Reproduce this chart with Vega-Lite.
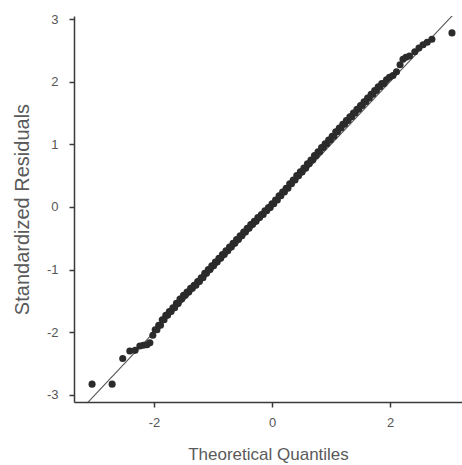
{
  "$schema": "https://vega.github.io/schema/vega-lite/v6.json",
  "width": 388,
  "height": 386,
  "autosize": "none",
  "padding": {"left": 74, "top": 16, "right": 0, "bottom": 63},
  "background": "white",
  "config": {
    "view": {"stroke": null},
    "font": "Liberation Sans",
    "axis": {
      "grid": false,
      "domainColor": "#3a3a3a",
      "domainWidth": 1.5,
      "tickColor": "#3a3a3a",
      "tickWidth": 1.5,
      "tickSize": 5,
      "labelColor": "#555555",
      "labelFontSize": 13,
      "labelFont": "Liberation Sans",
      "titleColor": "#5a5a5a",
      "titleFont": "Liberation Sans",
      "titleFontWeight": "normal"
    }
  },
  "datasets": {
    "ref": [
      {"tq": -3.6, "sr": -3.6},
      {"tq": 3.6, "sr": 3.6}
    ],
    "qq": [
      {"tq": -3.05, "sr": -2.83}, {"tq": -2.71, "sr": -2.83}, {"tq": -2.53, "sr": -2.42},
      {"tq": -2.41, "sr": -2.30}, {"tq": -2.32, "sr": -2.29}, {"tq": -2.24, "sr": -2.22},
      {"tq": -2.18, "sr": -2.21}, {"tq": -2.12, "sr": -2.20}, {"tq": -2.07, "sr": -2.17},
      {"tq": -2.02, "sr": -2.05},
      {"tq": -1.98, "sr": -1.96}, {"tq": -1.95, "sr": -1.96},
      {"tq": -1.92, "sr": -1.89}, {"tq": -1.89, "sr": -1.89},
      {"tq": -1.86, "sr": -1.80}, {"tq": -1.83, "sr": -1.80},
      {"tq": -1.80, "sr": -1.73}, {"tq": -1.77, "sr": -1.73},
      {"tq": -1.74, "sr": -1.67}, {"tq": -1.71, "sr": -1.67},
      {"tq": -1.68, "sr": -1.61}, {"tq": -1.65, "sr": -1.61},
      {"tq": -1.62, "sr": -1.54}, {"tq": -1.59, "sr": -1.54},
      {"tq": -1.56, "sr": -1.47}, {"tq": -1.53, "sr": -1.47},
      {"tq": -1.50, "sr": -1.41}, {"tq": -1.47, "sr": -1.41},
      {"tq": -1.44, "sr": -1.36}, {"tq": -1.41, "sr": -1.36},
      {"tq": -1.38, "sr": -1.30}, {"tq": -1.35, "sr": -1.30},
      {"tq": -1.32, "sr": -1.25}, {"tq": -1.29, "sr": -1.25},
      {"tq": -1.26, "sr": -1.19}, {"tq": -1.23, "sr": -1.19},
      {"tq": -1.20, "sr": -1.13}, {"tq": -1.17, "sr": -1.13},
      {"tq": -1.14, "sr": -1.06}, {"tq": -1.11, "sr": -1.06},
      {"tq": -1.08, "sr": -1.00}, {"tq": -1.05, "sr": -1.00},
      {"tq": -1.02, "sr": -0.94}, {"tq": -0.99, "sr": -0.94},
      {"tq": -0.96, "sr": -0.88}, {"tq": -0.93, "sr": -0.88},
      {"tq": -0.90, "sr": -0.82}, {"tq": -0.87, "sr": -0.82},
      {"tq": -0.84, "sr": -0.76}, {"tq": -0.81, "sr": -0.76},
      {"tq": -0.78, "sr": -0.70}, {"tq": -0.75, "sr": -0.70},
      {"tq": -0.72, "sr": -0.64}, {"tq": -0.69, "sr": -0.64},
      {"tq": -0.66, "sr": -0.58}, {"tq": -0.63, "sr": -0.58},
      {"tq": -0.60, "sr": -0.52}, {"tq": -0.57, "sr": -0.52},
      {"tq": -0.54, "sr": -0.46}, {"tq": -0.51, "sr": -0.46},
      {"tq": -0.48, "sr": -0.40}, {"tq": -0.45, "sr": -0.40},
      {"tq": -0.42, "sr": -0.34}, {"tq": -0.39, "sr": -0.34},
      {"tq": -0.36, "sr": -0.28}, {"tq": -0.33, "sr": -0.28},
      {"tq": -0.30, "sr": -0.23}, {"tq": -0.27, "sr": -0.23},
      {"tq": -0.24, "sr": -0.17}, {"tq": -0.21, "sr": -0.17},
      {"tq": -0.18, "sr": -0.12}, {"tq": -0.15, "sr": -0.12},
      {"tq": -0.12, "sr": -0.06}, {"tq": -0.09, "sr": -0.06},
      {"tq": -0.06, "sr": -0.01}, {"tq": -0.03, "sr": -0.01},
      {"tq": 0.00, "sr": 0.05}, {"tq": 0.03, "sr": 0.05},
      {"tq": 0.06, "sr": 0.11}, {"tq": 0.09, "sr": 0.11},
      {"tq": 0.12, "sr": 0.18}, {"tq": 0.15, "sr": 0.18},
      {"tq": 0.18, "sr": 0.24}, {"tq": 0.21, "sr": 0.24},
      {"tq": 0.24, "sr": 0.30}, {"tq": 0.27, "sr": 0.30},
      {"tq": 0.30, "sr": 0.37}, {"tq": 0.33, "sr": 0.37},
      {"tq": 0.36, "sr": 0.43}, {"tq": 0.39, "sr": 0.43},
      {"tq": 0.42, "sr": 0.50}, {"tq": 0.45, "sr": 0.50},
      {"tq": 0.48, "sr": 0.56}, {"tq": 0.51, "sr": 0.56},
      {"tq": 0.54, "sr": 0.62}, {"tq": 0.57, "sr": 0.62},
      {"tq": 0.60, "sr": 0.69}, {"tq": 0.63, "sr": 0.69},
      {"tq": 0.66, "sr": 0.75}, {"tq": 0.69, "sr": 0.75},
      {"tq": 0.72, "sr": 0.82}, {"tq": 0.75, "sr": 0.82},
      {"tq": 0.78, "sr": 0.88}, {"tq": 0.81, "sr": 0.88},
      {"tq": 0.84, "sr": 0.95}, {"tq": 0.87, "sr": 0.95},
      {"tq": 0.90, "sr": 1.01}, {"tq": 0.93, "sr": 1.01},
      {"tq": 0.96, "sr": 1.07}, {"tq": 0.99, "sr": 1.07},
      {"tq": 1.02, "sr": 1.13}, {"tq": 1.05, "sr": 1.13},
      {"tq": 1.08, "sr": 1.20}, {"tq": 1.11, "sr": 1.20},
      {"tq": 1.14, "sr": 1.26}, {"tq": 1.17, "sr": 1.26},
      {"tq": 1.20, "sr": 1.32}, {"tq": 1.23, "sr": 1.32},
      {"tq": 1.26, "sr": 1.38}, {"tq": 1.29, "sr": 1.38},
      {"tq": 1.32, "sr": 1.44}, {"tq": 1.35, "sr": 1.44},
      {"tq": 1.38, "sr": 1.50}, {"tq": 1.41, "sr": 1.50},
      {"tq": 1.44, "sr": 1.56}, {"tq": 1.47, "sr": 1.56},
      {"tq": 1.50, "sr": 1.62}, {"tq": 1.53, "sr": 1.62},
      {"tq": 1.56, "sr": 1.68}, {"tq": 1.59, "sr": 1.68},
      {"tq": 1.62, "sr": 1.74}, {"tq": 1.65, "sr": 1.74},
      {"tq": 1.68, "sr": 1.80}, {"tq": 1.71, "sr": 1.80},
      {"tq": 1.74, "sr": 1.86}, {"tq": 1.77, "sr": 1.86},
      {"tq": 1.80, "sr": 1.92}, {"tq": 1.83, "sr": 1.92},
      {"tq": 1.86, "sr": 1.97}, {"tq": 1.90, "sr": 1.97},
      {"tq": 1.94, "sr": 2.03}, {"tq": 1.99, "sr": 2.07},
      {"tq": 2.05, "sr": 2.10}, {"tq": 2.11, "sr": 2.16},
      {"tq": 2.17, "sr": 2.27}, {"tq": 2.22, "sr": 2.36},
      {"tq": 2.27, "sr": 2.39}, {"tq": 2.33, "sr": 2.41},
      {"tq": 2.42, "sr": 2.48}, {"tq": 2.49, "sr": 2.54},
      {"tq": 2.56, "sr": 2.59}, {"tq": 2.63, "sr": 2.63},
      {"tq": 2.71, "sr": 2.68}, {"tq": 3.05, "sr": 2.78}
    ]
  },
  "layer": [
    {
      "data": {"name": "ref"},
      "mark": {"type": "line", "color": "#555555", "strokeWidth": 1.1, "clip": true},
      "encoding": {
        "x": {"field": "tq", "type": "quantitative", "scale": {"domain": [-3.356, 3.22], "nice": false, "zero": false}},
        "y": {"field": "sr", "type": "quantitative", "scale": {"domain": [-3.115, 3.05], "nice": false, "zero": false}}
      }
    },
    {
      "data": {"name": "qq"},
      "mark": {"type": "point", "filled": true, "color": "#2b2b2b", "opacity": 1, "size": 50},
      "encoding": {
        "x": {
          "field": "tq", "type": "quantitative",
          "scale": {"domain": [-3.356, 3.22], "nice": false, "zero": false},
          "axis": {"values": [-2, 0, 2], "labelExpr": "'' + datum.value", "title": "Theoretical Quantiles", "titleFontSize": 17, "labelPadding": 9, "titlePadding": 17}
        },
        "y": {
          "field": "sr", "type": "quantitative",
          "scale": {"domain": [-3.115, 3.05], "nice": false, "zero": false},
          "axis": {"values": [-3, -2, -1, 0, 1, 2, 3], "labelExpr": "'' + datum.value", "title": "Standardized Residuals", "titleFontSize": 20, "labelPadding": 11, "titlePadding": 14}
        }
      }
    }
  ]
}
